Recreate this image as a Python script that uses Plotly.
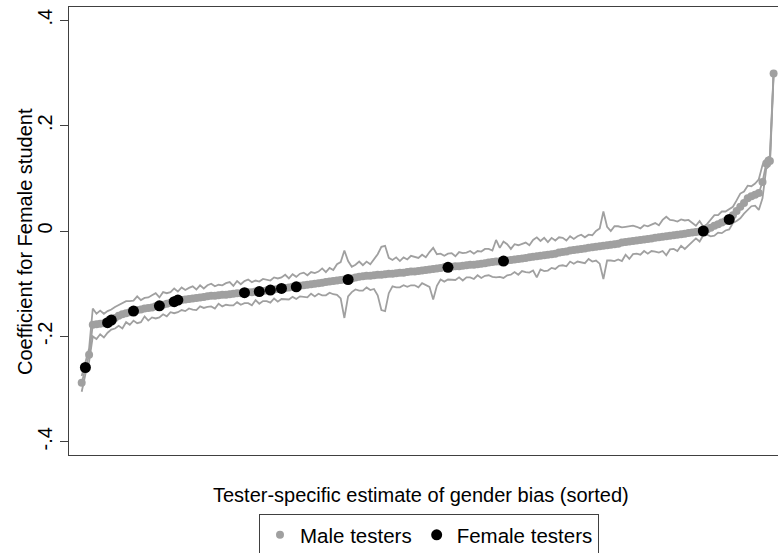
import plotly.graph_objects as go

# Tester rank (sorted by estimated bias)
rank = list(range(1, 189))

coef = [
    -0.288, -0.259, -0.235, -0.178, -0.177, -0.176, -0.175, -0.174, -0.169, -0.165,
    -0.161, -0.158, -0.156, -0.154, -0.152, -0.150, -0.149, -0.147, -0.146, -0.145,
    -0.143, -0.142, -0.140, -0.138, -0.136, -0.134, -0.131, -0.131, -0.130, -0.129,
    -0.128, -0.127, -0.126, -0.125, -0.124, -0.123, -0.123, -0.122, -0.121, -0.121,
    -0.120, -0.119, -0.118, -0.118, -0.117, -0.116, -0.116, -0.115, -0.115, -0.114,
    -0.113, -0.112, -0.111, -0.110, -0.109, -0.108, -0.107, -0.106, -0.106, -0.104,
    -0.103, -0.102, -0.101, -0.100, -0.099, -0.098, -0.097, -0.096, -0.095, -0.094,
    -0.093, -0.092, -0.092, -0.090, -0.088, -0.087, -0.086, -0.085, -0.085, -0.084,
    -0.083, -0.083, -0.082, -0.081, -0.081, -0.080, -0.079, -0.079, -0.078, -0.077,
    -0.077, -0.076, -0.075, -0.074, -0.073, -0.072, -0.071, -0.070, -0.069, -0.069,
    -0.068, -0.067, -0.067, -0.066, -0.065, -0.064, -0.064, -0.063, -0.062, -0.061,
    -0.060, -0.059, -0.058, -0.058, -0.057, -0.056, -0.055, -0.054, -0.053, -0.052,
    -0.051, -0.050, -0.049, -0.048, -0.047, -0.046, -0.045, -0.044, -0.043, -0.041,
    -0.040, -0.039, -0.037, -0.036, -0.035, -0.034, -0.033, -0.032, -0.031, -0.030,
    -0.029, -0.028, -0.027, -0.026, -0.025, -0.024, -0.022, -0.021, -0.020, -0.019,
    -0.018, -0.017, -0.016, -0.015, -0.014, -0.013, -0.012, -0.011, -0.010, -0.009,
    -0.008, -0.007, -0.006, -0.005, -0.004, -0.003, -0.002, -0.001, 0.000, 0.003,
    0.006, 0.010, 0.013, 0.016, 0.019, 0.022, 0.030, 0.038, 0.046, 0.053,
    0.062, 0.066, 0.069, 0.072, 0.093, 0.128, 0.133, 0.299,
]

ci_upper = [
    -0.275, -0.247, -0.223, -0.147, -0.157, -0.151, -0.157, -0.152, -0.149, -0.144,
    -0.140, -0.137, -0.133, -0.133, -0.132, -0.124, -0.131, -0.127, -0.126, -0.122,
    -0.118, -0.126, -0.116, -0.118, -0.116, -0.109, -0.115, -0.107, -0.112, -0.108,
    -0.105, -0.111, -0.103, -0.109, -0.103, -0.100, -0.105, -0.102, -0.103, -0.099,
    -0.097, -0.104, -0.095, -0.101, -0.095, -0.092, -0.097, -0.094, -0.096, -0.091,
    -0.092, -0.094, -0.088, -0.090, -0.088, -0.083, -0.090, -0.082, -0.087, -0.081,
    -0.079, -0.084, -0.078, -0.080, -0.077, -0.071, -0.078, -0.070, -0.074, -0.063,
    -0.059, -0.037, -0.057, -0.068, -0.064, -0.058, -0.065, -0.058, -0.063, -0.054,
    -0.044, -0.030, -0.028, -0.051, -0.055, -0.050, -0.057, -0.050, -0.054, -0.047,
    -0.049, -0.051, -0.045, -0.050, -0.040, -0.032, -0.044, -0.043, -0.047, -0.043,
    -0.042, -0.048, -0.040, -0.042, -0.041, -0.038, -0.043, -0.038, -0.039, -0.034,
    -0.034, -0.037, -0.017, -0.032, -0.020, -0.025, -0.034, -0.025, -0.027, -0.024,
    -0.022, -0.027, -0.017, -0.012, -0.019, -0.013, -0.021, -0.013, -0.018, -0.012,
    -0.013, -0.018, -0.010, -0.015, -0.010, -0.007, -0.012, -0.007, -0.008, 0.000,
    0.005, 0.037, 0.008, 0.000, 0.009, 0.009, 0.007, 0.008, 0.009, 0.010,
    0.008, 0.005, 0.011, 0.009, 0.012, 0.015, 0.011, 0.021, 0.027, 0.021,
    0.020, 0.018, 0.022, 0.020, 0.021, 0.015, 0.010, 0.019, 0.008, 0.013,
    0.022, 0.030, 0.030, 0.037, 0.037, 0.042, 0.046, 0.058, 0.071, 0.075,
    0.086, 0.085, 0.090, 0.098, 0.125, 0.138, 0.142, 0.302,
]

ci_lower = [
    -0.305, -0.272, -0.248, -0.200, -0.205, -0.196, -0.202, -0.193, -0.187, -0.185,
    -0.180, -0.185, -0.173, -0.178, -0.170, -0.175, -0.173, -0.162, -0.170, -0.164,
    -0.166, -0.164, -0.158, -0.162, -0.154, -0.156, -0.154, -0.150, -0.152, -0.147,
    -0.149, -0.150, -0.143, -0.146, -0.144, -0.143, -0.147, -0.138, -0.143, -0.140,
    -0.141, -0.141, -0.135, -0.140, -0.137, -0.137, -0.141, -0.131, -0.138, -0.133,
    -0.133, -0.136, -0.128, -0.134, -0.129, -0.130, -0.130, -0.125, -0.129, -0.124,
    -0.125, -0.126, -0.119, -0.124, -0.119, -0.122, -0.122, -0.117, -0.120, -0.121,
    -0.128, -0.165, -0.124, -0.116, -0.111, -0.113, -0.113, -0.107, -0.112, -0.110,
    -0.122, -0.150, -0.152, -0.118, -0.105, -0.107, -0.107, -0.103, -0.106, -0.103,
    -0.103, -0.107, -0.099, -0.102, -0.106, -0.130, -0.104, -0.092, -0.096, -0.092,
    -0.092, -0.093, -0.088, -0.094, -0.088, -0.088, -0.091, -0.084, -0.089, -0.085,
    -0.084, -0.087, -0.088, -0.087, -0.089, -0.084, -0.083, -0.078, -0.083, -0.076,
    -0.078, -0.079, -0.075, -0.088, -0.073, -0.076, -0.075, -0.070, -0.072, -0.066,
    -0.065, -0.067, -0.058, -0.062, -0.058, -0.059, -0.061, -0.053, -0.058, -0.056,
    -0.062, -0.091, -0.056, -0.056, -0.057, -0.054, -0.057, -0.045, -0.053, -0.044,
    -0.043, -0.045, -0.038, -0.043, -0.038, -0.039, -0.041, -0.038, -0.046, -0.035,
    -0.034, -0.038, -0.028, -0.034, -0.027, -0.021, -0.014, -0.020, -0.008, -0.007,
    -0.010, -0.009, -0.003, -0.004, 0.001, 0.003, 0.015, 0.019, 0.024, 0.033,
    0.040, 0.047, 0.048, 0.040, 0.062, 0.118, 0.124, 0.296,
]

# Ranks of the female testers
female_rank = [2, 8, 9, 15, 22, 26, 27, 45, 49, 52, 55, 59, 73, 100, 115, 169, 176]

y_tickvals = [-0.4, -0.2, 0, 0.2, 0.4]
y_ticktext = ["-.4", "-.2", "0", ".2", ".4"]

GRAY = "#a0a0a0"
FONT = "Liberation Sans, Arial, sans-serif"
FS = 20

female_set = set(female_rank)
male_x = [r for r in rank if r not in female_set]
male_y = [coef[r - 1] for r in male_x]
fem_y = [coef[r - 1] for r in female_rank]

fig = go.Figure()
fig.add_trace(go.Scatter(x=rank, y=ci_upper, mode="lines",
                         line=dict(color=GRAY, width=1.8), showlegend=False, hoverinfo="skip"))
fig.add_trace(go.Scatter(x=rank, y=ci_lower, mode="lines",
                         line=dict(color=GRAY, width=1.8), showlegend=False, hoverinfo="skip"))
fig.add_trace(go.Scatter(x=rank, y=coef, mode="lines",
                         line=dict(color=GRAY, width=1.8), showlegend=False, hoverinfo="skip"))
fig.add_trace(go.Scatter(x=male_x, y=male_y, mode="markers", name="Male testers",
                         marker=dict(color=GRAY, size=8, line=dict(width=0))))
fig.add_trace(go.Scatter(x=female_rank, y=fem_y, mode="markers", name="Female testers",
                         marker=dict(color="black", size=11, line=dict(width=0))))

fig.update_layout(
    width=779, height=553,
    margin=dict(l=69, r=1, t=7, b=98),
    paper_bgcolor="white", plot_bgcolor="white",
    font=dict(family=FONT, size=FS, color="black"),
    showlegend=True,
    legend=dict(orientation="h", xref="container", yref="container",
                x=429 / 779, xanchor="center", y=1 - 514 / 553, yanchor="top",
                bordercolor="#404040", borderwidth=1, bgcolor="white",
                font=dict(family=FONT, size=20.5)),
    xaxis=dict(range=[-2.43, 189.19], showline=True, mirror=True, linecolor="#404040",
               linewidth=1.3, showticklabels=False, ticks="", showgrid=False, zeroline=False),
    yaxis=dict(range=[-0.425, 0.425], tickvals=y_tickvals, ticktext=y_ticktext,
               ticks="outside", ticklen=8, tickcolor="#404040", tickwidth=1.2,
               tickangle=-90, showline=True, linecolor="#404040", linewidth=1.3,
               showgrid=False, zeroline=False),
    annotations=[
        dict(text="Tester-specific estimate of gender bias (sorted)", xref="paper", yref="paper",
             x=0.4965, y=-0.0893, xanchor="center", yanchor="middle", showarrow=False,
             font=dict(family=FONT, size=FS)),
        dict(text="Coefficient for Female student", xref="paper", yref="paper",
             x=-0.0621, y=0.4777, xanchor="center", yanchor="middle", showarrow=False,
             textangle=-90, font=dict(family=FONT, size=FS)),
    ],
)

fig.write_html("out.html")
